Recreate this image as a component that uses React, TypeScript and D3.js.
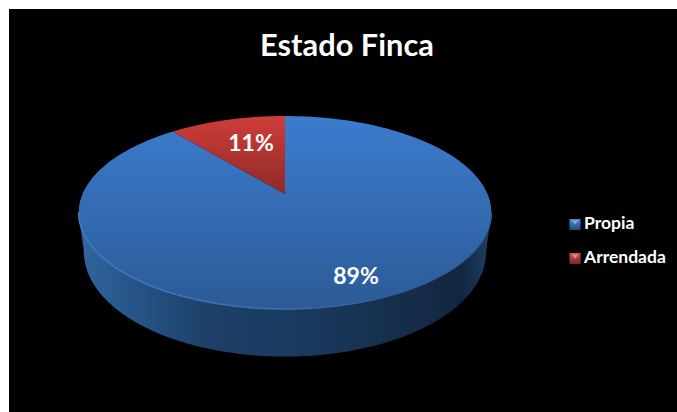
import React from "react";
import * as d3 from "d3";

const categories = ["Propia", "Arrendada"];
const shares = [89, 11];
const labels = ["89%", "11%"];
const title = "Estado Finca";

const W = 677, H = 412;
const cx = 285, apexY = 194, radius = 202.5, persp = -0.1917, ky = 92.95;
const sideDepth = 36, frontDepth = 14;
const font = "Lato, 'Open Sans', sans-serif";

// perspective projection of a unit-disc position onto the screen
const project = (a: number, s = 1): [number, number] => {
  const u = Math.sin(a), v = -Math.cos(a);
  const d = 1 + persp * v;
  return [cx + (radius * s * u) / d, apexY + (ky * s * v) / d + (1 - s) * 18];
};
// lower rim of the disc: same circle, slightly narrower, dropped more at the front
const lowerRim = (a: number): [number, number] => {
  const [x, y] = project(a, 0.975);
  return [x, y + sideDepth + frontDepth * Math.max(0, -Math.cos(a))];
};

const line = d3.line<[number, number]>().x(p => p[0]).y(p => p[1]);
const sweep = (a0: number, a1: number) => d3.range(0, 181).map(i => a0 + ((a1 - a0) * i) / 180);
const arcPts = (a0: number, a1: number) => sweep(a0, a1).map(a => project(a));

const pie = d3.pie<number>().sort(null).value(d => d)(shares);
const slicePath = (a0: number, a1: number) => line([[cx, apexY], ...arcPts(a0, a1)]) + "Z";

// angles at which the projected disc reaches its widest points
const rightEdge = Math.PI / 2 + Math.asin(-persp);
const leftEdge = (3 * Math.PI) / 2 - Math.asin(-persp);

const fills = ["url(#blueTop)", "url(#redTop)"];
const swatch = ["url(#blueKey)", "url(#redKey)"];
const glint = ["#8fc0f0", "#f0a09c"];
const labelPos: [number, number][] = [[356, 276], [251, 143]];
const legendY = d3.scalePoint<string>().domain(categories).range([224.5, 258.5]);

export default function App() {
  const wallFront = [
    ...arcPts(rightEdge, leftEdge),
    ...sweep(leftEdge, rightEdge).map(lowerRim),
  ];
  return (
    <svg width={W} height={H} style={{ position: "absolute", left: 0, top: 0, display: "block" }}>
      <defs>
        <linearGradient id="blueTop" gradientUnits="userSpaceOnUse" x1="0" x2="0" y1="116" y2="309">
          <stop offset="0" stopColor="#3c7cce" />
          <stop offset="1" stopColor="#2c5a96" />
        </linearGradient>
        <linearGradient id="redTop" gradientUnits="userSpaceOnUse" x1="0" x2="0" y1="116" y2="194">
          <stop offset="0" stopColor="#cf3d3a" />
          <stop offset="1" stopColor="#8e2a28" />
        </linearGradient>
        <linearGradient id="wall" gradientUnits="userSpaceOnUse" x1="81" x2="490" y1="0" y2="0">
          <stop offset="0" stopColor="#3166a1" />
          <stop offset="0.08" stopColor="#2a5a90" />
          <stop offset="0.3" stopColor="#1e416a" />
          <stop offset="0.6" stopColor="#19375a" />
          <stop offset="0.93" stopColor="#13263f" />
          <stop offset="1" stopColor="#1f3e64" />
        </linearGradient>
        <linearGradient id="rim" gradientUnits="userSpaceOnUse" x1="79" x2="491" y1="0" y2="0">
          <stop offset="0" stopColor="#3f7cc4" />
          <stop offset="0.5" stopColor="#3a6fb0" />
          <stop offset="0.75" stopColor="#2f5f9a" />
          <stop offset="1" stopColor="#2f5f9a" />
        </linearGradient>
        <linearGradient id="blueKey" x1="0" x2="0" y1="0" y2="1">
          <stop offset="0" stopColor="#4b8ad8" />
          <stop offset="1" stopColor="#224a7c" />
        </linearGradient>
        <linearGradient id="redKey" x1="0" x2="0" y1="0" y2="1">
          <stop offset="0" stopColor="#d8504c" />
          <stop offset="1" stopColor="#7e2523" />
        </linearGradient>
      </defs>
      <rect x={9} y={9} width={W - 9} height={H - 9} fill="#000" />
      <text x={347} y={55.5} textAnchor="middle" fill="#fff" fontFamily={font} fontWeight={700} fontSize={30.8}>{title}</text>

      <path d={line(wallFront) + "Z"} fill="url(#wall)" />

      {pie.map((s, i) => (
        <path key={categories[i]} d={slicePath(s.startAngle, s.endAngle)} fill={fills[i]} />
      ))}
      <path d={line(arcPts(rightEdge, leftEdge))!} fill="none" stroke="url(#rim)" strokeWidth={1.5} />

      {pie.map((s, i) => (
        <text key={labels[i]} x={labelPos[i][0]} y={labelPos[i][1] + 8} textAnchor="middle" fill="#fff"
          fontFamily={font} fontWeight={700} fontSize={23}>{labels[i]}</text>
      ))}

      {categories.map((c, i) => {
        const y = legendY(c)!;
        return (
          <g key={c}>
            <rect x={569.5} y={y - 5.5} width={11} height={11} fill={swatch[i]} />
            <path d={`M571.5,${y - 4}h7l-3.5,4Z`} fill={glint[i]} opacity={0.75} />
            <text x={584} y={y + 4.5} fill="#fff" fontFamily={font} fontWeight={700} fontSize={17.5}>{c}</text>
          </g>
        );
      })}
    </svg>
  );
}
